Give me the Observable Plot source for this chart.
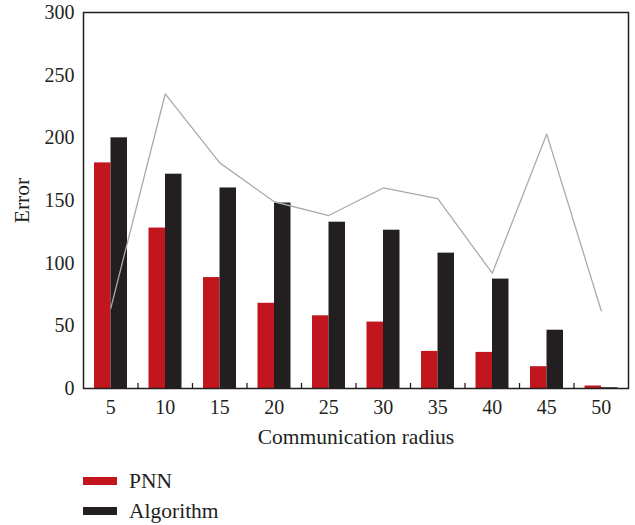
<!DOCTYPE html>
<html>
<head>
<meta charset="utf-8">
<script src="https://cdn.jsdelivr.net/npm/d3@7"></script>
<script src="https://cdn.jsdelivr.net/npm/@observablehq/plot@0.6"></script>
<style>
  html, body { margin: 0; padding: 0; background: #fff; }
  #wrap { position: relative; width: 635px; height: 525px; font-family: "Liberation Serif", "DejaVu Serif", serif; color: #231f20; }
  .legend { position: absolute; left: 83px; top: 466px; }
  .row { display: flex; align-items: center; height: 30px; font-size: 21.5px; }
  .sw { width: 34px; height: 8px; margin-right: 12px; }
</style>
</head>
<body>
<div id="wrap"></div>
<script>
const radius = [5, 10, 15, 20, 25, 30, 35, 40, 45, 50];
const pnn = [180, 128, 88.5, 68, 58, 53, 29.6, 28.8, 17.4, 2];
const algorithm = [200, 171, 160, 148, 132.7, 126.3, 108, 87.3, 46.5, 0.6];
const lineValues = [64, 235, 180, 149, 138, 160, 151.5, 92, 203, 62];
const yTicks = [0, 50, 100, 150, 200, 250, 300];
const seriesNames = ["PNN", "Algorithm"];
const colors = ["#c1161e", "#231f20"];

const pnnData = radius.map((r, i) => ({r, v: pnn[i]}));
const algData = radius.map((r, i) => ({r, v: algorithm[i]}));
const lineData = radius.map((r, i) => ({r, v: lineValues[i]}));

const chart = Plot.plot({
  width: 635,
  height: 455,
  marginTop: 12,
  marginLeft: 83,
  marginRight: 7,
  marginBottom: 67,
  style: {fontFamily: "'Liberation Serif', 'DejaVu Serif', serif", fontSize: "20px", color: "#231f20", background: "#fff"},
  x: {type: "band", domain: radius, padding: 0, round: false},
  y: {domain: [0, 300]},
  marks: [
    Plot.barY(pnnData, {x: "r", y: "v", fill: colors[0], insetLeft: 11, insetRight: 27}),
    Plot.barY(algData, {x: "r", y: "v", fill: colors[1], insetLeft: 27.5, insetRight: 10.5}),
    Plot.line(lineData, {x: "r", y: "v", stroke: "#aaaaaa", strokeWidth: 1.3}),
    Plot.ruleX(radius.slice(1), {x: d => d, y1: 0, y2: 4, dx: -27.25, stroke: "#231f20", strokeWidth: 1.3}),
    Plot.frame({stroke: "#231f20", strokeWidth: 1.5}),
    Plot.axisY({ticks: yTicks, tickSize: 0, tickPadding: 9, label: null}),
    Plot.axisY({ticks: [], tickSize: 0, label: "Error", labelAnchor: "center", labelArrow: "none", labelOffset: 70, fontSize: 21.5}),
    Plot.axisX({tickSize: 0, tickPadding: 11, label: null}),
    Plot.axisX({ticks: [], tickSize: 0, label: "Communication radius", labelAnchor: "center", labelArrow: "none", labelOffset: 55, fontSize: 21.5})
  ]
});

const wrap = document.getElementById("wrap");
wrap.appendChild(chart);
const legend = document.createElement("div");
legend.className = "legend";
seriesNames.forEach((name, i) => {
  const row = document.createElement("div");
  row.className = "row";
  const sw = document.createElement("div");
  sw.className = "sw";
  sw.style.background = colors[i];
  const t = document.createElement("span");
  t.textContent = name;
  row.appendChild(sw);
  row.appendChild(t);
  legend.appendChild(row);
});
wrap.appendChild(legend);
</script>
</body>
</html>
